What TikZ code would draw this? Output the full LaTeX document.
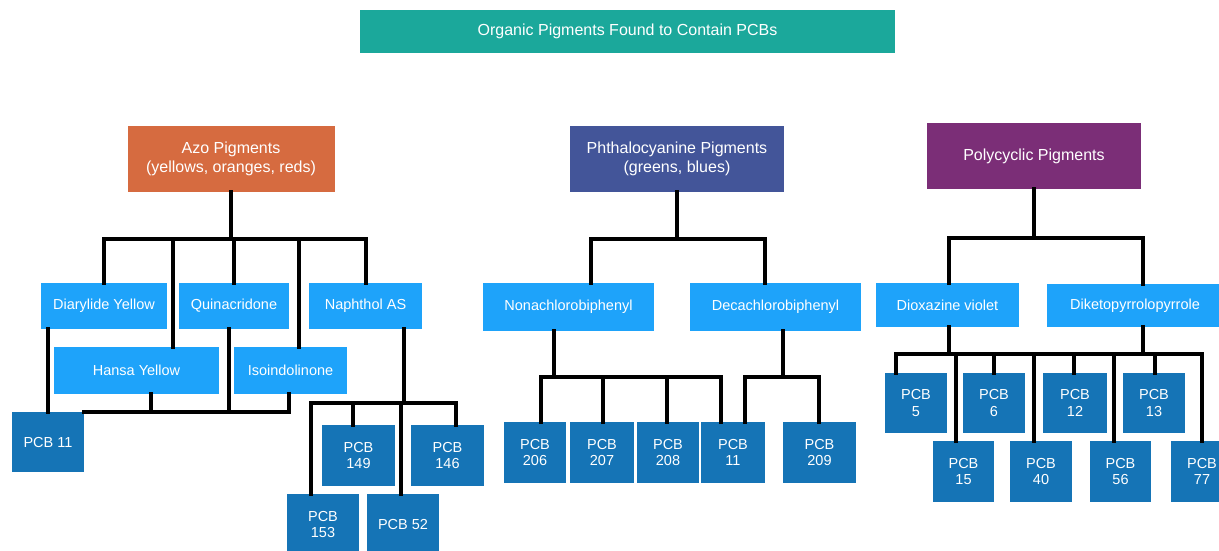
\documentclass[tikz,border=0pt]{standalone}
\usepackage{fontspec}
\setmainfont{Liberation Sans}
\definecolor{teal1}{HTML}{1BA89B}
\definecolor{azoc}{HTML}{D66B40}
\definecolor{phthc}{HTML}{435599}
\definecolor{polyc}{HTML}{7B2E77}
\definecolor{lightb}{HTML}{1EA3FA}
\definecolor{darkb}{HTML}{1574B6}
\tikzset{
  basebox/.style={inner sep=0pt, outer sep=0pt, align=center, text=white},
  topbox/.style={basebox, font=\fontsize{16}{18.5}\selectfont},
  subbox/.style={basebox, fill=lightb, font=\fontsize{14.5}{16}\selectfont},
  pcbbox/.style={basebox, fill=darkb, font=\fontsize{14.5}{16.5}\selectfont},
  conn/.style={draw=black, line width=3.2pt, line cap=rect, line join=miter},
}
\begin{document}
\begin{tikzpicture}[x=1pt,y=-1pt]
\useasboundingbox (0,0) rectangle (1219,550);
\clip (0,0) rectangle (1219,550);
\fill[white] (0,0) rectangle (1219,550);

% ---------- nodes ----------
\node[topbox, fill=teal1, minimum width=535, minimum height=43] (title) at (627.5,31.5) {Organic Pigments Found to Contain PCBs};

\node[topbox, fill=azoc, minimum width=207, minimum height=66] (azo) at (231,159) {Azo Pigments\\(yellows, oranges, reds)};
\node[topbox, fill=phthc, minimum width=214, minimum height=66] (phth) at (677,159) {Phthalocyanine Pigments\\(greens, blues)};
\node[topbox, fill=polyc, minimum width=214, minimum height=66] (poly) at (1034,156) {Polycyclic Pigments};

% azo subtree
\node[subbox, minimum width=126, minimum height=46] (dia) at (104,306) {Diarylide Yellow};
\node[subbox, minimum width=110, minimum height=46] (quin) at (234,306) {Quinacridone};
\node[subbox, minimum width=113, minimum height=46] (naph) at (365.5,306) {Naphthol AS};
\node[subbox, minimum width=165, minimum height=47] (hansa) at (136.5,370.5) {Hansa Yellow};
\node[subbox, minimum width=113, minimum height=47] (iso) at (290.5,370.5) {Isoindolinone};

\node[pcbbox, minimum width=72, minimum height=60] (p11a) at (48,442) {PCB 11};
\node[pcbbox, minimum width=73, minimum height=61] (p149) at (358.5,455.5) {PCB\\149};
\node[pcbbox, minimum width=73, minimum height=61] (p146) at (447.5,455.5) {PCB\\146};
\node[pcbbox, minimum width=72, minimum height=61] (p153) at (323,524.5) {PCB\\153};
\node[pcbbox, minimum width=72, minimum height=61] (p52) at (403,524.5) {PCB 52};

% phthalocyanine subtree
\node[subbox, minimum width=171, minimum height=48] (nona) at (568.5,307) {Nonachlorobiphenyl};
\node[subbox, minimum width=171, minimum height=48] (deca) at (775.5,307) {Decachlorobiphenyl};

\node[pcbbox, minimum width=62, minimum height=61] (p206) at (535,452.5) {PCB\\206};
\node[pcbbox, minimum width=64, minimum height=61] (p207) at (602,452.5) {PCB\\207};
\node[pcbbox, minimum width=62, minimum height=61] (p208) at (668,452.5) {PCB\\208};
\node[pcbbox, minimum width=64, minimum height=61] (p11b) at (733,452.5) {PCB\\11};
\node[pcbbox, minimum width=73, minimum height=61] (p209) at (819.5,452.5) {PCB\\209};

% polycyclic subtree
\node[subbox, minimum width=143, minimum height=44] (diox) at (947.5,305) {Dioxazine violet};
\node[subbox, minimum width=176, minimum height=43] (diket) at (1135,305.5) {Diketopyrrolopyrrole};

\node[pcbbox, minimum width=62, minimum height=60] (p5) at (916,403) {PCB\\5};
\node[pcbbox, minimum width=62, minimum height=60] (p6) at (994,403) {PCB\\6};
\node[pcbbox, minimum width=64, minimum height=60] (p12) at (1075,403) {PCB\\12};
\node[pcbbox, minimum width=62, minimum height=60] (p13) at (1154,403) {PCB\\13};
\node[pcbbox, minimum width=61, minimum height=61] (p15) at (963.5,471.5) {PCB\\15};
\node[pcbbox, minimum width=62, minimum height=61] (p40) at (1041,471.5) {PCB\\40};
\node[pcbbox, minimum width=61, minimum height=61] (p56) at (1120.5,471.5) {PCB\\56};
\node[pcbbox, minimum width=62, minimum height=61] (p77) at (1202,471.5) {PCB\\77};

% ---------- junction coordinates ----------
\coordinate (azoJ) at (231,239);
\coordinate (azoL) at (104,239);
\coordinate (azoR) at (366,239);
\coordinate (azoH) at (173,239);
\coordinate (azoI) at (299,239);

\coordinate (lowR) at (289,412);
\coordinate (lowH) at (151,412);
\coordinate (lowQ) at (229,412);

\coordinate (naJ) at (404,403);
\coordinate (naL) at (311,403);
\coordinate (naA) at (353,403);
\coordinate (naB) at (401,403);
\coordinate (naR) at (456,403);

\coordinate (phJ) at (677,239);
\coordinate (phL) at (591,239);
\coordinate (phR) at (765,239);

\coordinate (noJ) at (554,377);
\coordinate (noA) at (541,377);
\coordinate (noB) at (603,377);
\coordinate (noC) at (667,377);
\coordinate (noD) at (721,377);

\coordinate (deJ) at (783,377);
\coordinate (deA) at (745,377);
\coordinate (deB) at (819,377);

\coordinate (poJ) at (1034,238);
\coordinate (poL) at (949,238);
\coordinate (poR) at (1143,238);

\coordinate (pbL) at (896,354);
\coordinate (pbR) at (1202,354);
\coordinate (pbX) at (949,354);
\coordinate (pbY) at (1143,354);
\coordinate (pb15) at (956,354);
\coordinate (pb6) at (994,354);
\coordinate (pb40) at (1034,354);
\coordinate (pb12) at (1074,354);
\coordinate (pb56) at (1114,354);
\coordinate (pb13) at (1155,354);

% ---------- connectors: azo ----------
\draw[conn] (azo.south -| azoJ) -- (azoJ);
\draw[conn] (dia.north -| azoL) -- (azoL) -- (azoR) -- (naph.north -| azoR);
\draw[conn] (azoH) -- (hansa.north -| azoH);
\draw[conn] (azoI) -- (iso.north -| azoI);
\draw[conn] (quin.north) -- (quin.north |- azoJ);

\draw[conn] (dia.south -| p11a.north) -- (p11a.north);
\draw[conn] (p11a.north east) -- (lowR) -- (iso.south -| lowR);
\draw[conn] (hansa.south -| lowH) -- (lowH);
\draw[conn] (quin.south -| lowQ) -- (lowQ);

\draw[conn] (naph.south -| naJ) -- (naJ);
\draw[conn] (p153.north -| naL) -- (naL) -- (naR) -- (p146.north -| naR);
\draw[conn] (naA) -- (p149.north -| naA);
\draw[conn] (naB) -- (p52.north -| naB);

% ---------- connectors: phthalocyanine ----------
\draw[conn] (phth.south -| phJ) -- (phJ);
\draw[conn] (nona.north -| phL) -- (phL) -- (phR) -- (deca.north -| phR);

\draw[conn] (nona.south -| noJ) -- (noJ);
\draw[conn] (p206.north -| noA) -- (noA) -- (noD) -- (p11b.north -| noD);
\draw[conn] (noB) -- (p207.north -| noB);
\draw[conn] (noC) -- (p208.north -| noC);

\draw[conn] (deca.south -| deJ) -- (deJ);
\draw[conn] (p11b.north -| deA) -- (deA) -- (deB) -- (p209.north -| deB);

% ---------- connectors: polycyclic ----------
\draw[conn] (poly.south -| poJ) -- (poJ);
\draw[conn] (diox.north -| poL) -- (poL) -- (poR) -- (diket.north -| poR);

\draw[conn] (diox.south -| pbX) -- (pbX);
\draw[conn] (diket.south -| pbY) -- (pbY);
\draw[conn] (p5.north -| pbL) -- (pbL) -- (pbR) -- (p77.north -| pbR);
\draw[conn] (pb15) -- (p15.north -| pb15);
\draw[conn] (pb6) -- (p6.north -| pb6);
\draw[conn] (pb40) -- (p40.north -| pb40);
\draw[conn] (pb12) -- (p12.north -| pb12);
\draw[conn] (pb56) -- (p56.north -| pb56);
\draw[conn] (pb13) -- (p13.north -| pb13);
\end{tikzpicture}
\end{document}
